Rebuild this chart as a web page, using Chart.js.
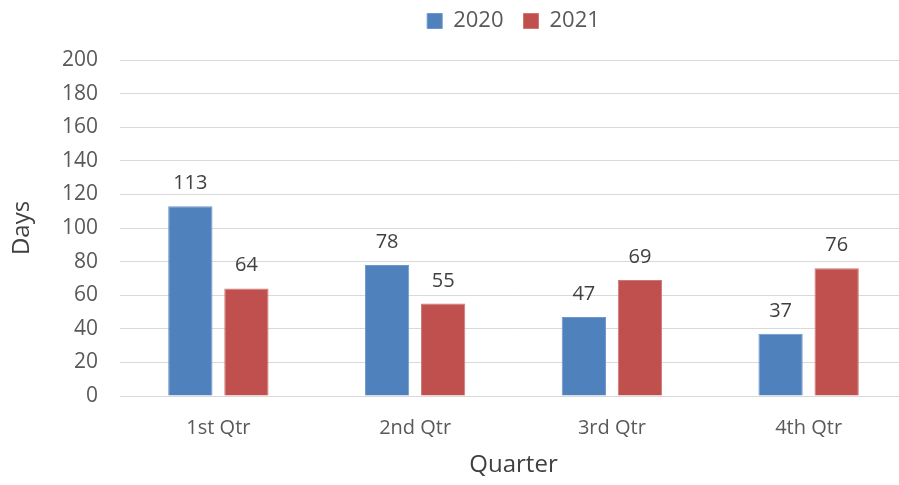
<!DOCTYPE html>
<html>
<head>
<meta charset="utf-8">
<script src="https://cdn.jsdelivr.net/npm/chart.js@4"></script>
<style>
  html, body { margin: 0; padding: 0; background: #fff; overflow: hidden; }
  #wrap { width: 907px; height: 485px; }
</style>
</head>
<body>
<div id="wrap"><canvas id="myChart" width="907" height="485"></canvas></div>
<script>
const quarters = ["1st Qtr", "2nd Qtr", "3rd Qtr", "4th Qtr"];
const days2020 = [113, 78, 47, 37];
const days2021 = [64, 55, 69, 76];
const yTicks = [0, 20, 40, 60, 80, 100, 120, 140, 160, 180, 200];

const FONT = "'Open Sans', sans-serif";

// value labels above each bar
const barValueLabels = {
  id: 'barValueLabels',
  afterDatasetsDraw(chart) {
    const ctx = chart.ctx;
    ctx.save();
    ctx.font = "20px " + FONT;
    ctx.fillStyle = "#404040";
    ctx.textAlign = "center";
    ctx.textBaseline = "alphabetic";
    chart.data.datasets.forEach((ds, i) => {
      chart.getDatasetMeta(i).data.forEach((bar, j) => {
        ctx.fillText(String(ds.data[j]), bar.x, bar.y - 17);
      });
    });
    ctx.restore();
  }
};

// extra space under the legend, and legend centred over the plot area
const legendPlacement = {
  id: 'legendPlacement',
  beforeInit(chart) {
    const fit = chart.legend.fit;
    chart.legend.fit = function () {
      fit.call(this);
      this.height += 18;
    };
  },
  afterLayout(chart) {
    chart.legend.left = chart.chartArea.left;
    chart.legend.right = chart.chartArea.right;
  }
};

new Chart(document.getElementById('myChart'), {
  type: 'bar',
  data: {
    labels: quarters,
    datasets: [{
      label: '2020',
      data: days2020,
      backgroundColor: '#4F81BD',
      borderColor: '#6E97CC',
      borderWidth: 1
    }, {
      label: '2021',
      data: days2021,
      backgroundColor: '#C0504D',
      borderColor: '#D07774',
      borderWidth: 1
    }]
  },
  options: {
    responsive: false,
    animation: false,
    categoryPercentage: 0.57,
    barPercentage: 0.79,
    layout: { padding: { top: -10, right: 0, left: 0, bottom: 0 } },
    plugins: {
      legend: {
        display: true,
        position: 'top',
        labels: {
          font: { family: FONT, size: 22 },
          color: '#595959',
          boxWidth: 15,
          boxHeight: 15,
          padding: 20
        }
      },
      tooltip: { enabled: false }
    },
    scales: {
      x: {
        grid: { display: false, drawTicks: false },
        border: { display: false },
        ticks: {
          font: { family: FONT, size: 20 },
          color: '#595959',
          padding: 20
        },
        title: {
          display: true,
          text: 'Quarter',
          font: { family: FONT, size: 24 },
          color: '#404040',
          padding: { top: 4, bottom: 5 }
        },
        afterFit(scale) { scale.height = 89; }
      },
      y: {
        min: 0,
        max: 200,
        afterBuildTicks(scale) {
          scale.ticks = yTicks.map(v => ({ value: v }));
        },
        grid: {
          color: '#D9D9D9',
          lineWidth: 1,
          drawTicks: false
        },
        border: { display: false },
        ticks: {
          font: { family: FONT, size: 21 },
          color: '#595959',
          padding: 22
        },
        title: {
          display: true,
          text: 'Days',
          font: { family: FONT, size: 24 },
          color: '#404040',
          padding: { top: 8, bottom: 4 }
        },
        afterFit(scale) { scale.width = 120; }
      }
    }
  },
  plugins: [barValueLabels, legendPlacement]
});
</script>
</body>
</html>
